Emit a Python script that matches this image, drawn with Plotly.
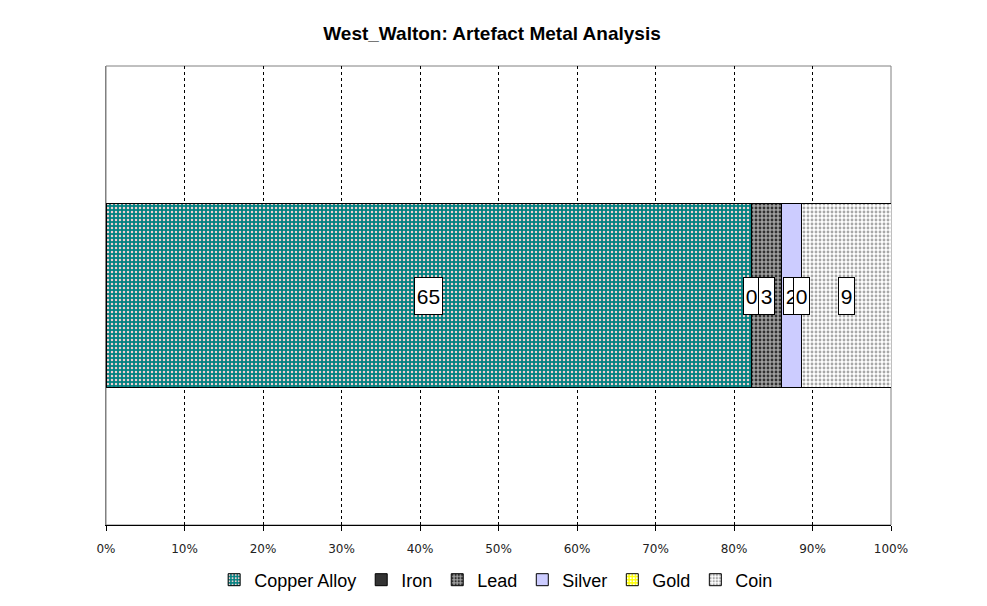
import plotly.graph_objects as go

categories = ["West_Walton"]
series_names = ["Copper Alloy", "Iron", "Lead", "Silver", "Gold", "Coin"]
series_values = [65, 0, 3, 2, 0, 9]
tick_vals = [0, 10, 20, 30, 40, 50, 60, 70, 80, 90, 100]
tick_text = [f"{v}%" for v in tick_vals]

styles = {
    "Copper Alloy": dict(bg="#008080", fg="#F0D0D0", shape=".", size=4, sol=0.3),
    "Iron": dict(bg="#333333", fg="#333333", shape="", size=4, sol=0.3),
    "Lead": dict(bg="#A0A0A0", fg="#303030", shape=".", size=4, sol=0.4),
    "Silver": dict(bg="#CCCCFF", fg="#CCCCFF", shape="", size=4, sol=0.3),
    "Gold": dict(bg="#FFFF00", fg="#FFFFFF", shape=".", size=4, sol=0.35),
    "Coin": dict(bg="#FFFFFF", fg="#A8A8A8", shape=".", size=4, sol=0.4),
}

fig = go.Figure()
for name, val in zip(series_names, series_values):
    s = styles[name]
    fig.add_trace(go.Bar(
        name=name, y=categories, x=[val], orientation="h", width=0.4,
        marker=dict(color=s["bg"], line=dict(color="black", width=1),
                    pattern=dict(shape=s["shape"], bgcolor=s["bg"], fgcolor=s["fg"],
                                 size=s["size"], solidity=s["sol"], fillmode="replace")),
        hoverinfo="name+x",
    ))

total = sum(series_values)
cum = 0
for name, val in zip(series_names, series_values):
    center = (cum + val / 2) / total * 100
    cum += val
    txt = str(val)
    fig.add_annotation(
        x=center, y=categories[0], xref="x", yref="y", text=txt, showarrow=False,
        font=dict(family="Liberation Sans, Arial", size=21, color="black"),
        bgcolor="white", bordercolor="black", borderwidth=1,
        width=12 * len(txt) + 3, height=36, borderpad=0,
    )

fig.add_shape(type="rect", xref="paper", yref="paper", x0=0, y0=0, x1=1, y1=1,
              line=dict(color="#808080", width=1), layer="below")

# page body has an 8px margin: figure is offset by (8, 8)
fig.update_layout(
    barmode="stack", barnorm="percent",
    width=979, height=598,
    margin=dict(l=98, r=96, t=58, b=81, autoexpand=False),
    paper_bgcolor="white", plot_bgcolor="white",
    title=dict(text="<b>West_Walton: Artefact Metal Analysis</b>", x=(492 - 8) / 979, xanchor="center",
               y=1 - 25 / 598, yanchor="middle",
               font=dict(family="Liberation Sans, Arial", size=19, color="black")),
    showlegend=True,
    legend=dict(orientation="h", x=0.497, xanchor="center", y=-55 / 459, yanchor="middle",
                font=dict(family="Liberation Sans, Arial", size=18, color="black"),
                itemwidth=30, traceorder="normal", tracegroupgap=0),
    xaxis=dict(range=[0, 100], tickvals=tick_vals, ticktext=tick_text,
               showgrid=True, gridcolor="black", griddash="dot", gridwidth=1,
               showline=True, linecolor="black", linewidth=1,
               ticks="outside", ticklen=5, tickcolor="black", ticklabelstandoff=8,
               tickfont=dict(family="DejaVu Sans", size=12, color="#222222"),
               zeroline=False, fixedrange=True),
    yaxis=dict(range=[-0.5, 0.5], showticklabels=False, showgrid=False,
               showline=True, linecolor="#808080", linewidth=1, zeroline=False,
               ticks="", fixedrange=True),
)

fig.write_html("out.html")
